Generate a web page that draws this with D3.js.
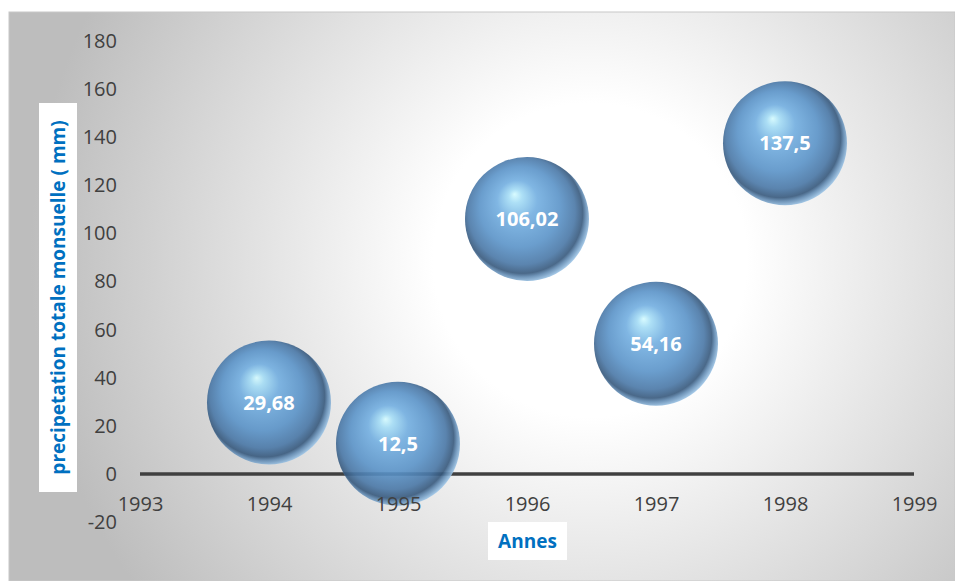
<!DOCTYPE html>
<html><head><meta charset="utf-8">
<script src="https://cdn.jsdelivr.net/npm/d3@7"></script>
<style>html,body{margin:0;padding:0;background:#fff;}svg{display:block;}</style>
</head><body>
<script>
const years = [1994, 1995, 1996, 1997, 1998];
const values = [29.68, 12.5, 106.02, 54.16, 137.5];
const valueLabels = ["29,68", "12,5", "106,02", "54,16", "137,5"];
const yTicks = [-20, 0, 20, 40, 60, 80, 100, 120, 140, 160, 180];
const xTicks = [1993, 1994, 1995, 1996, 1997, 1998, 1999];
const yTitle = "precipetation totale monsuelle ( mm)";
const xTitle = "Annes";

const W = 955, H = 581;
const svg = d3.select("body").append("svg").attr("width", W).attr("height", H);
const defs = svg.append("defs");

const bg = defs.append("radialGradient").attr("id", "bg")
  .attr("gradientUnits", "userSpaceOnUse")
  .attr("cx", 590).attr("cy", 260).attr("r", 560);
bg.append("stop").attr("offset", "0%").attr("stop-color", "#ffffff");
bg.append("stop").attr("offset", "28%").attr("stop-color", "#ffffff");
bg.append("stop").attr("offset", "100%").attr("stop-color", "#bdbdbd");

const bub = defs.append("radialGradient").attr("id", "bub")
  .attr("cx", "0.47").attr("cy", "0.47").attr("r", "0.54")
  .attr("fx", "0.4").attr("fy", "0.3");
[["0%", "#d4fbff"], ["10%", "#a4dcf5"], ["30%", "#72aee0"], ["60%", "#5a93c8"], ["80%", "#4977a6"], ["90%", "#36587c"], ["94%", "#5f88b0"], ["100%", "#9cc4e6"]]
  .forEach(([o, c]) => bub.append("stop").attr("offset", o).attr("stop-color", c));

svg.append("rect").attr("x", 9).attr("y", 12).attr("width", W - 9).attr("height", H - 12)
  .attr("fill", "url(#bg)").attr("stroke", "#c8c8c8").attr("stroke-width", 1);

const x = d3.scaleLinear().domain([1993, 1999]).range([140, 914]);
const y = d3.scaleLinear().domain([-20, 180]).range([522, 41]);

const font = "'Open Sans', 'Liberation Sans', sans-serif";

// Y axis labels
const yAx = svg.append("g").attr("transform", "translate(117,0)")
  .call(d3.axisLeft(y).tickValues(yTicks).tickFormat(d => String(d)).tickSize(0).tickPadding(0));
yAx.select(".domain").remove();
yAx.selectAll("text").attr("font-family", font).attr("font-size", 20).attr("fill", "#404040");

// zero line
svg.append("line").attr("x1", x(1993)).attr("x2", x(1999)).attr("y1", y(0)).attr("y2", y(0))
  .attr("stroke", "#404040").attr("stroke-width", 3.5);

// bubbles
const g = svg.append("g").selectAll("g").data(years).join("g")
  .attr("transform", (d, i) => `translate(${x(d)},${y(values[i])})`);
g.append("circle").attr("r", 62).attr("fill", "url(#bub)").attr("opacity", 0.9);
g.append("text").attr("text-anchor", "middle").attr("dy", "0.36em")
  .attr("font-family", font).attr("font-weight", "bold").attr("font-size", 20)
  .attr("fill", "#ffffff").text((d, i) => valueLabels[i]);

// X axis labels
const xAx = svg.append("g").attr("transform", `translate(0,${y(0)})`)
  .call(d3.axisBottom(x).tickValues(xTicks).tickFormat(d => String(d)).tickSize(0).tickPadding(23));
xAx.select(".domain").remove();
xAx.selectAll("text").attr("font-family", font).attr("font-size", 20).attr("fill", "#404040");

// axis titles
svg.append("rect").attr("x", 39).attr("y", 103).attr("width", 38).attr("height", 389).attr("fill", "#fff");
svg.append("text").attr("transform", "translate(58,297.5) rotate(-90)")
  .attr("text-anchor", "middle").attr("dy", "0.36em")
  .attr("font-family", font).attr("font-weight", "bold").attr("font-size", 19)
  .attr("fill", "#0070c0").text(yTitle);

svg.append("rect").attr("x", 488).attr("y", 522).attr("width", 79).attr("height", 38).attr("fill", "#fff");
svg.append("text").attr("x", 527.5).attr("y", 541).attr("text-anchor", "middle").attr("dy", "0.36em")
  .attr("font-family", font).attr("font-weight", "bold").attr("font-size", 19)
  .attr("fill", "#0070c0").text(xTitle);
</script>
</body></html>
